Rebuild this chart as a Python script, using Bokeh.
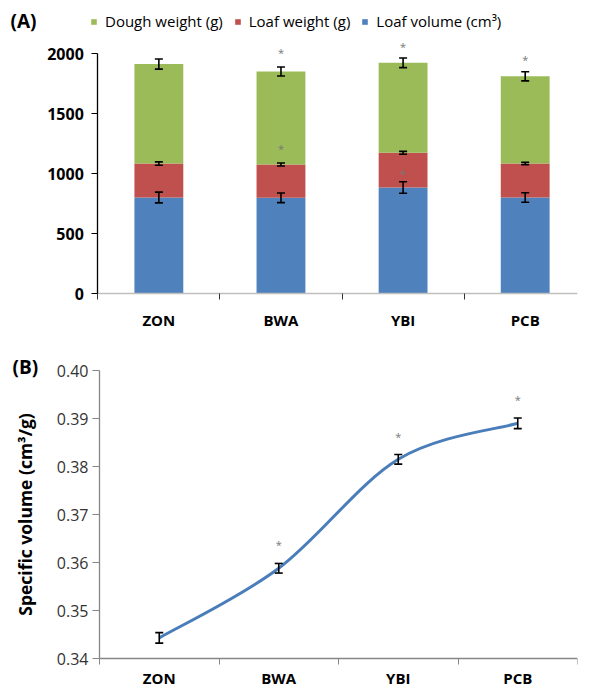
import numpy as np
from bokeh.plotting import figure
from bokeh.models import (Range1d, FixedTicker, ColumnDataSource, Whisker, TeeHead,
                          Legend, LegendItem, Label)
from bokeh.layouts import column
from bokeh.embed import file_html
from bokeh.resources import INLINE
from bokeh.core.properties import value

# ---------------- data ----------------
categories = ["ZON", "BWA", "YBI", "PCB"]
loaf_volume = [800, 797, 883, 800]          # cm3 (bottom segment)
loaf_weight = [283, 278, 289, 283]          # g (middle segment)
dough_weight = [829, 775, 750, 727]         # g (top segment)
loaf_volume_err = [45, 40, 48, 40]
loaf_weight_err = [14, 13, 12, 10]
dough_weight_err = [42, 38, 40, 38]
starsA_cat = ["BWA", "BWA", "YBI", "YBI", "PCB"]
starsA_y = [2012, 1208, 2058, 1000, 1950]

specific_volume = [0.3443, 0.3588, 0.3815, 0.3890]
specific_volume_err = [0.0011, 0.0010, 0.0010, 0.0011]
starsB_cat = ["BWA", "YBI", "PCB"]
starsB_y = [0.3637, 0.3863, 0.3940]

FONT = "Open Sans"
GREEN, RED, BLUE = "#9bbb59", "#c0504d", "#4f81bd"

xc = [i + 0.5 for i in range(len(categories))]
cat_x = {c: i + 0.5 for i, c in enumerate(categories)}

# ---------------- chart A ----------------
A_W, A_H = 593, 340
A_LEFT, A_CAT = 100, 125.5
A_ZERO = 293          # pixel row of value 0
A_PX = 0.12           # px per unit
pa = figure(width=A_W, height=A_H, output_backend="svg", toolbar_location=None,
            x_range=Range1d(-A_LEFT / A_CAT, (A_W - A_LEFT) / A_CAT),
            y_range=Range1d(-(A_H - A_ZERO) / A_PX, A_ZERO / A_PX),
            min_border_left=0, min_border_right=0, min_border_top=0, min_border_bottom=0)
pa.outline_line_color = None
pa.grid.visible = False

srcA = ColumnDataSource(dict(x=xc, vol=loaf_volume, wt=loaf_weight, dough=dough_weight))
rs = pa.vbar_stack(["vol", "wt", "dough"], x="x", width=0.4, source=srcA,
                   color=[BLUE, RED, GREEN], line_color=None)

vol = np.array(loaf_volume, float)
wt = vol + np.array(loaf_weight, float)
dg = wt + np.array(dough_weight, float)
for top, err in [(vol, loaf_volume_err), (wt, loaf_weight_err), (dg, dough_weight_err)]:
    e = np.array(err, float)
    s = ColumnDataSource(dict(x=xc, lo=top - e, hi=top + e))
    pa.add_layout(Whisker(base="x", lower="lo", upper="hi", source=s, level="annotation",
                          line_color="black", line_width=1.6,
                          upper_head=TeeHead(size=8, line_color="black", line_width=1.6),
                          lower_head=TeeHead(size=8, line_color="black", line_width=1.6)))

pa.text(x=[cat_x[c] for c in starsA_cat], y=starsA_y, text=["*"] * len(starsA_y),
        text_font=value(FONT), text_font_size="11px", text_color="#777777",
        text_align="center", text_baseline="middle")

pa.yaxis.fixed_location = 0
pa.yaxis.ticker = FixedTicker(ticks=[0, 500, 1000, 1500, 2000])
pa.yaxis.bounds = (0, 2000)
pa.yaxis.axis_line_color = "black"
pa.yaxis.axis_line_width = 1.3
pa.yaxis.major_tick_line_color = "black"
pa.yaxis.major_tick_out = 6
pa.yaxis.major_tick_in = 0
pa.yaxis.minor_tick_line_color = None
pa.yaxis.major_label_standoff = 8
pa.yaxis.major_label_text_font = FONT
pa.yaxis.major_label_text_font_style = "bold"
pa.yaxis.major_label_text_font_size = "16px"
pa.yaxis.major_label_text_color = "black"

pa.xaxis.fixed_location = 0
pa.xaxis.ticker = FixedTicker(ticks=xc, minor_ticks=[0, 1, 2, 3, 4])
pa.xaxis.bounds = (0, (A_W - A_LEFT) / A_CAT)
pa.xaxis.major_label_overrides = {x: c for x, c in zip(xc, categories)}
pa.xaxis.axis_line_color = "#bfbfbf"
pa.xaxis.axis_line_width = 1.3
pa.xaxis.major_tick_line_color = None
pa.xaxis.major_tick_out = 0
pa.xaxis.major_tick_in = 0
pa.xaxis.minor_tick_line_color = "#333333"
pa.xaxis.minor_tick_out = 6
pa.xaxis.minor_tick_in = 0
pa.xaxis.major_label_standoff = 10
pa.xaxis.major_label_text_font = FONT
pa.xaxis.major_label_text_font_style = "bold"
pa.xaxis.major_label_text_font_size = "15px"
pa.xaxis.major_label_text_color = "black"

legend = Legend(items=[LegendItem(label="Dough weight (g)", renderers=[rs[2]]),
                       LegendItem(label="Loaf weight (g)", renderers=[rs[1]]),
                       LegendItem(label="Loaf volume (cm³)", renderers=[rs[0]])],
                orientation="horizontal", location=(90, A_H - 31),
                border_line_color=None, background_fill_alpha=0,
                glyph_width=7, glyph_height=7, label_standoff=8, spacing=11,
                padding=0, margin=0,
                label_text_font=FONT, label_text_font_size="15px",
                label_text_color="black")
pa.add_layout(legend, "center")

pa.add_layout(Label(x=10, y=A_H - 20, x_units="screen", y_units="screen", text="(A)",
                    text_font=FONT, text_font_style="bold", text_font_size="19px",
                    text_color="black", text_baseline="middle"))

# ---------------- chart B ----------------
B_H = 688 - A_H
B_LEFT, B_RIGHT, B_CAT = 99, 16, 119.5
B_TOP_PAD, B_BOTTOM_PAD = 30, 30
B_PX = (B_H - B_BOTTOM_PAD - B_TOP_PAD) / 0.06
pb = figure(width=A_W, height=B_H, output_backend="svg", toolbar_location=None,
            x_range=Range1d(-B_LEFT / B_CAT, 4),
            y_range=Range1d(0.34 - B_BOTTOM_PAD / B_PX, 0.40 + B_TOP_PAD / B_PX),
            min_border_left=0, min_border_right=B_RIGHT, min_border_top=0,
            min_border_bottom=0)
pb.outline_line_color = None
pb.grid.visible = False

ys = list(specific_volume)
n = len(xc)
P = [(xc[0], ys[0])] + list(zip(xc, ys)) + [(xc[-1], ys[-1])]
x0, y0, x1, y1, cx0, cy0, cx1, cy1 = ([] for _ in range(8))
for i in range(n - 1):
    pm, p0, p1, p2 = P[i], P[i + 1], P[i + 2], P[i + 3]
    x0.append(p0[0]); y0.append(p0[1]); x1.append(p1[0]); y1.append(p1[1])
    cx0.append(p0[0] + (p1[0] - pm[0]) / 6); cy0.append(p0[1] + (p1[1] - pm[1]) / 6)
    cx1.append(p1[0] - (p2[0] - p0[0]) / 6); cy1.append(p1[1] - (p2[1] - p0[1]) / 6)
pb.bezier(x0=x0, y0=y0, x1=x1, y1=y1, cx0=cx0, cy0=cy0, cx1=cx1, cy1=cy1,
          line_color="#4a7ebb", line_width=3)

e = np.array(specific_volume_err)
sB = ColumnDataSource(dict(x=xc, lo=np.array(ys) - e, hi=np.array(ys) + e))
pb.add_layout(Whisker(base="x", lower="lo", upper="hi", source=sB, level="annotation",
                      line_color="black", line_width=1.6,
                      upper_head=TeeHead(size=8, line_color="black", line_width=1.6),
                      lower_head=TeeHead(size=8, line_color="black", line_width=1.6)))

pb.text(x=[cat_x[c] for c in starsB_cat], y=starsB_y, text=["*"] * len(starsB_y),
        text_font=value(FONT), text_font_size="11px", text_color="#777777",
        text_align="center", text_baseline="middle")

pb.yaxis.fixed_location = 0
pb.yaxis.ticker = FixedTicker(ticks=[0.34, 0.35, 0.36, 0.37, 0.38, 0.39, 0.40])
pb.yaxis.bounds = (0.34, 0.40)
pb.yaxis.major_label_overrides = {0.34: "0.34", 0.35: "0.35", 0.36: "0.36", 0.37: "0.37",
                                  0.38: "0.38", 0.39: "0.39", 0.40: "0.40"}
pb.yaxis.axis_line_color = "#868686"
pb.yaxis.axis_line_width = 1.3
pb.yaxis.major_tick_line_color = "#868686"
pb.yaxis.major_tick_out = 7
pb.yaxis.major_tick_in = 0
pb.yaxis.minor_tick_line_color = None
pb.yaxis.major_label_standoff = 4
pb.yaxis.major_label_text_font = FONT
pb.yaxis.major_label_text_font_size = "16px"
pb.yaxis.major_label_text_color = "#333333"
pb.yaxis.axis_label = "Specific volume (cm³/g)"
pb.yaxis.axis_label_text_font = FONT
pb.yaxis.axis_label_text_font_style = "bold"
pb.yaxis.axis_label_text_font_size = "17.5px"
pb.yaxis.axis_label_text_color = "black"
pb.yaxis.axis_label_standoff = 17

pb.xaxis.fixed_location = 0.34
pb.xaxis.ticker = FixedTicker(ticks=xc, minor_ticks=[0, 1, 2, 3, 4])
pb.xaxis.bounds = (0, 4)
pb.xaxis.major_label_overrides = {x: c for x, c in zip(xc, categories)}
pb.xaxis.axis_line_color = "#868686"
pb.xaxis.axis_line_width = 1.3
pb.xaxis.major_tick_line_color = None
pb.xaxis.major_tick_out = 0
pb.xaxis.major_tick_in = 0
pb.xaxis.minor_tick_line_color = "#868686"
pb.xaxis.minor_tick_out = 6
pb.xaxis.minor_tick_in = 0
pb.xaxis.major_label_standoff = 3
pb.xaxis.major_label_text_font = FONT
pb.xaxis.major_label_text_font_style = "bold"
pb.xaxis.major_label_text_font_size = "15px"
pb.xaxis.major_label_text_color = "black"

pb.add_layout(Label(x=12, y=B_H - 26, x_units="screen", y_units="screen",
                    text="(B)", text_font=FONT, text_font_style="bold",
                    text_font_size="19px", text_color="black", text_baseline="middle"))

layout = column(pa, pb, spacing=0)
open("out.html", "w").write(file_html(layout, INLINE))
